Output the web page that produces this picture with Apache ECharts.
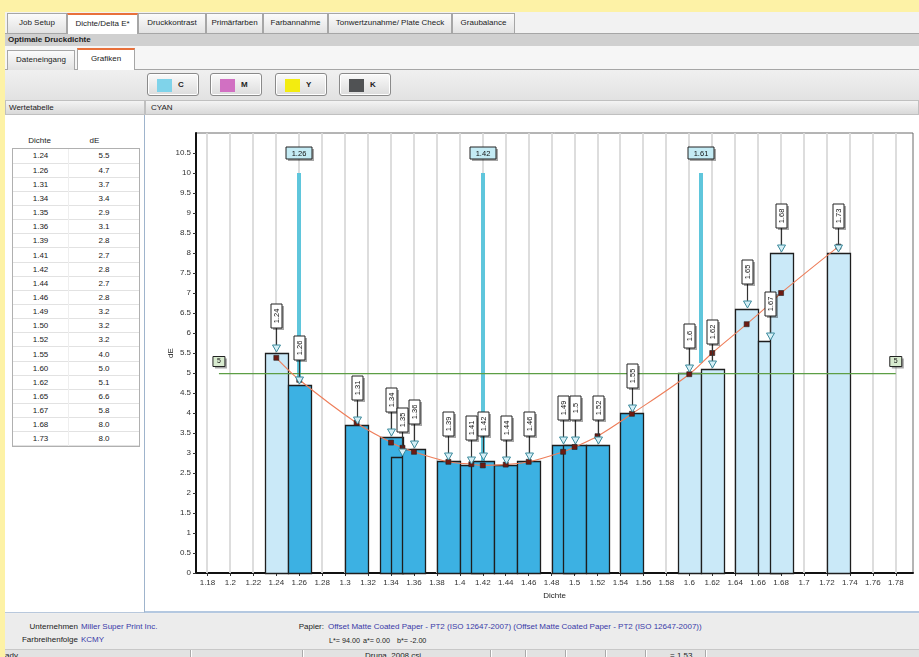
<!DOCTYPE html>
<html><head><meta charset="utf-8">
<script src="https://cdn.jsdelivr.net/npm/echarts@6/dist/echarts.min.js"></script>
<style>
html,body{margin:0;padding:0;width:919px;height:657px;overflow:hidden;background:#fdf2a6;font-family:"Liberation Sans",Arial,sans-serif;font-size:8px;color:#222;}
.a{position:absolute;box-sizing:border-box;}
.tab{position:absolute;box-sizing:border-box;top:13px;height:20px;border:1px solid #a6a6a6;border-bottom:none;background:linear-gradient(#fbfbfb,#e2e2e2);text-align:center;line-height:18px;white-space:nowrap;}
.tab.on{background:#fff;border-top:2px solid #e8703a;top:13px;height:21px;}
.btn{position:absolute;top:73px;height:23px;width:52px;box-sizing:border-box;border:1px solid #8a8a8a;border-radius:3px;background:linear-gradient(#fafafa,#dcdcdc);box-shadow:inset 0 0 0 1px #fff;}
.btn .sq{position:absolute;left:9px;top:5px;width:15px;height:13px;}
.btn .t{position:absolute;left:30px;top:6px;font-weight:bold;font-size:8px;}
table{border-collapse:collapse;}
.sm{font-size:7.2px;white-space:nowrap;}
</style>
</head><body>
<div class="a" style="left:5px;top:12px;width:914px;height:645px;background:#eeeeee;"></div>
<!-- main tabs -->
<div class="a" style="left:5px;top:12px;width:914px;height:22px;background:#f2f2f2;border-bottom:1px solid #a6a6a6;"></div>
<div class="tab" style="left:7px;width:60px;">Job Setup</div>
<div class="tab on" style="left:67px;width:71px;">Dichte/Delta E*</div>
<div class="tab" style="left:138px;width:68px;">Druckkontrast</div>
<div class="tab" style="left:206px;width:57px;">Primärfarben</div>
<div class="tab" style="left:263px;width:65px;">Farbannahme</div>
<div class="tab" style="left:328px;width:124px;">Tonwertzunahme/ Plate Check</div>
<div class="tab" style="left:452px;width:63px;">Graubalance</div>
<!-- title bar -->
<div class="a" style="left:5px;top:34px;width:914px;height:12px;background:#d0d0d0;font-weight:bold;padding-left:3px;line-height:12px;">Optimale Druckdichte</div>
<!-- sub tabs -->
<div class="a" style="left:5px;top:46px;width:914px;height:24px;background:#f6f6f6;border-bottom:1px solid #a6a6a6;"></div>
<div class="tab" style="left:7px;top:50px;width:68px;">Dateneingang</div>
<div class="tab on" style="left:77px;top:48px;width:58px;height:22px;">Grafiken</div>
<!-- buttons -->
<div class="a" style="left:5px;top:70px;width:914px;height:30px;background:linear-gradient(#f0f0f0,#e2e2e2);"></div>
<div class="btn" style="left:147px;"><div class="sq" style="background:#7fd3ea;"></div><div class="t">C</div></div>
<div class="btn" style="left:210px;"><div class="sq" style="background:#d170c2;"></div><div class="t">M</div></div>
<div class="btn" style="left:275px;"><div class="sq" style="background:#f3ec10;"></div><div class="t">Y</div></div>
<div class="btn" style="left:339px;"><div class="sq" style="background:#505254;"></div><div class="t">K</div></div>
<!-- header row -->
<div class="a" style="left:5px;top:100px;width:140px;height:15px;background:linear-gradient(#f4f4f4,#d9d9d9);border:1px solid #c0c0c0;padding-left:3px;line-height:13px;">Wertetabelle</div>
<div class="a" style="left:145px;top:100px;width:774px;height:15px;background:linear-gradient(#f4f4f4,#d9d9d9);border:1px solid #c0c0c0;padding-left:5px;line-height:13px;">CYAN</div>
<!-- left panel -->
<div class="a" style="left:5px;top:115px;width:140px;height:498px;background:#fff;border-right:1px solid #9fb4cc;border-bottom:1px solid #b8c8dc;"></div>
<div class="a" style="left:12px;top:135px;width:128px;height:12px;">
  <span class="a" style="left:0;width:55px;text-align:center;line-height:12px;">Dichte</span>
  <span class="a" style="left:55px;width:55px;text-align:center;line-height:12px;">dE</span>
</div>
<div id="tbl" class="a" style="left:12px;top:148px;width:128px;border:1px solid #b0b0b0;background:#fff;"></div>
<!-- chart panel -->
<div class="a" style="left:145px;top:115px;width:774px;height:498px;background:#fff;border-bottom:2px solid #b4c8e0;"></div>
<div id="chart" class="a" style="left:146px;top:115px;width:773px;height:497px;"></div>
<!-- bottom info -->
<div class="a" style="left:5px;top:614px;width:914px;height:35px;background:#ececec;"></div>
<div class="a" style="left:5px;top:622px;width:73px;text-align:right;">Unternehmen</div>
<div class="a" style="left:81px;top:622px;color:#3a3aa8;">Miller Super Print Inc.</div>
<div class="a" style="left:5px;top:635px;width:73px;text-align:right;">Farbreihenfolge</div>
<div class="a" style="left:81px;top:635px;color:#3a3aa8;">KCMY</div>
<div class="a" style="left:280px;top:622px;width:44px;text-align:right;">Papier:</div>
<div class="a" style="left:328px;top:622px;color:#3a3aa8;white-space:nowrap;">Offset Matte Coated Paper - PT2 (ISO 12647-2007) (Offset Matte Coated Paper - PT2 (ISO 12647-2007))</div>
<div class="a sm" style="left:329px;top:636px;">L*= 94.00</div>
<div class="a sm" style="left:363px;top:636px;">a*= 0.00</div>
<div class="a sm" style="left:397px;top:636px;">b*= -2.00</div>
<!-- status bar -->
<div class="a" style="left:5px;top:649px;width:914px;height:8px;background:#e2e2e2;border-top:1px solid #c8c8c8;overflow:hidden;">
  <span class="a" style="left:0;top:1px;">ady</span>
  <span class="a" style="left:185px;top:0;height:10px;border-left:1px solid #aaa;border-right:1px solid #fff;"></span>
  <span class="a" style="left:297px;top:0;height:10px;border-left:1px solid #aaa;border-right:1px solid #fff;"></span>
  <span class="a" style="left:360px;top:1px;">Druna_2008.csi</span>
  <span class="a" style="left:485px;top:0;height:10px;border-left:1px solid #aaa;border-right:1px solid #fff;"></span>
  <span class="a" style="left:520px;top:0;height:10px;border-left:1px solid #aaa;border-right:1px solid #fff;"></span>
  <span class="a" style="left:560px;top:0;height:10px;border-left:1px solid #aaa;border-right:1px solid #fff;"></span>
  <span class="a" style="left:600px;top:0;height:10px;border-left:1px solid #aaa;border-right:1px solid #fff;"></span>
  <span class="a" style="left:640px;top:0;height:10px;border-left:1px solid #aaa;border-right:1px solid #fff;"></span>
  <span class="a" style="left:665px;top:1px;">= 1.53</span>
  <span class="a" style="left:700px;top:0;height:10px;border-left:1px solid #aaa;border-right:1px solid #fff;"></span>
</div>

<script>
// ---- data ----
const dichte = [1.24,1.26,1.31,1.34,1.35,1.36,1.39,1.41,1.42,1.44,1.46,1.49,1.50,1.52,1.55,1.60,1.62,1.65,1.67,1.68,1.73];
const dE     = [5.5, 4.7, 3.7, 3.4, 2.9, 3.1, 2.8, 2.7, 2.8, 2.7, 2.8, 3.2, 3.2, 3.2, 4.0, 5.0, 5.1, 6.6, 5.8, 8.0, 8.0];
const fitDE  = [5.38,4.83,3.75,3.26,3.13,3.03,2.78,2.72,2.69,2.71,2.78,3.03,3.15,3.42,3.98,4.97,5.50,6.22,6.72,7.00,8.16];
const guideDichte = [1.26, 1.42, 1.61];
const guideLow    = [4.83, 2.69, 5.25];
const guideHigh   = 10;
const guideLabelAt = 10.5;
const limitDE = 5;
const limitFrom = 1.19, limitTo = 1.78;
const xTicks = [1.18,1.2,1.22,1.24,1.26,1.28,1.3,1.32,1.34,1.36,1.38,1.4,1.42,1.44,1.46,1.48,1.5,1.52,1.54,1.56,1.58,1.6,1.62,1.64,1.66,1.68,1.7,1.72,1.74,1.76,1.78];
const yTicks = [0,0.5,1,1.5,2,2.5,3,3.5,4,4.5,5,5.5,6,6.5,7,7.5,8,8.5,9,9.5,10,10.5];
const xMin = 1.17, xMax = 1.795, yMin = 0, yMax = 11;
const barHalf = 0.01;

// ---- table ----
(function(){
  let h = '<table style="width:100%;">';
  dichte.forEach((d,i)=>{
    h += '<tr style="height:14.15px;border-bottom:1px solid #e2e2e2;"><td style="width:55px;text-align:center;padding:0;border-right:1px solid #eee;">'+d.toFixed(2)+'</td><td style="text-align:center;padding:0;">'+dE[i].toFixed(1)+'</td></tr>';
  });
  h += '</table>';
  document.getElementById('tbl').innerHTML = h;
})();

const FONT = '"Liberation Sans", Arial, sans-serif';
const darkBlue = '#3cb1e3', lightBlue = '#cae9f8';

function gridItem(params, api){
  const x = api.value(0);
  const a = api.coord([x, yMin]), b = api.coord([x, yMax]);
  const px = Math.round(a[0]);
  return {type:'line', shape:{x1:px,y1:a[1],x2:px,y2:b[1]}, style:{stroke:'#dadada', lineWidth:1.8}};
}
function limitItem(params, api){
  const a = api.coord([api.value(0), api.value(2)]);
  const b = api.coord([api.value(1), api.value(2)]);
  const y = Math.round(a[1]) + 0.5;
  const mk = (cx) => [
    {type:'rect', shape:{x:cx-6+2, y:y-17+2, width:12, height:10}, style:{fill:'rgba(0,0,0,0.35)'}},
    {type:'rect', shape:{x:cx-6, y:y-17, width:12, height:10}, style:{fill:'#d8ebcf', stroke:'#222', lineWidth:1}},
    {type:'text', x:cx, y:y-12, style:{text:String(api.value(2)), fill:'#111', fontSize:7, fontFamily:FONT, align:'center', verticalAlign:'middle'}}
  ];
  return {type:'group', children:[
    {type:'rect', shape:{x:a[0], y:y-0.6, width:b[0]-a[0], height:1.3}, style:{fill:'#5d9e45'}}
  ].concat(mk(a[0]), mk(b[0]))};
}
function guideItem(params, api){
  const x = api.value(0);
  const lo = api.coord([x, api.value(1)]), hi = api.coord([x, api.value(2)]), lab = api.coord([x, api.value(3)]);
  const cx = Math.round(lo[0]);
  const w = 26, h = 12;
  return {type:'group', children:[
    {type:'line', shape:{x1:cx,y1:lo[1],x2:cx,y2:hi[1]}, style:{stroke:'#5fc6dc', lineWidth:4}},
    {type:'rect', shape:{x:cx-w/2+2, y:lab[1]-h/2+2, width:w, height:h}, style:{fill:'rgba(0,0,0,0.35)'}},
    {type:'rect', shape:{x:cx-w/2, y:lab[1]-h/2, width:w, height:h}, style:{fill:'#c4ebf4', stroke:'#222', lineWidth:1}},
    {type:'text', x:cx, y:lab[1]+0.5, style:{text:String(x), fill:'#111', fontSize:7.5, fontFamily:FONT, align:'center', verticalAlign:'middle'}}
  ]};
}
function barItem(params, api){
  const x = api.value(0), v = api.value(1);
  const p1 = api.coord([x - barHalf, v]), p2 = api.coord([x + barHalf, 0]);
  return {type:'rect', shape:{x:Math.round(p1[0])+0.5, y:Math.round(p1[1])+0.5, width:Math.round(p2[0]-p1[0]), height:Math.round(p2[1]-p1[1])},
    style:{fill: v < limitDE ? darkBlue : lightBlue, stroke:'#1e1e1e', lineWidth:1.3}};
}
function annItem(params, api){
  const x = api.value(0), v = api.value(1);
  const p = api.coord([x, v]);
  const cx = Math.round(p[0]) + 0.5, top = p[1];
  const triH = 7, gap = 18, bw = 11, bh = 24;
  const bb = top - triH - gap;
  return {type:'group', children:[
    {type:'line', shape:{x1:cx,y1:bb,x2:cx,y2:top-triH}, style:{stroke:'#333', lineWidth:1.2}},
    {type:'polygon', shape:{points:[[cx-4,top-triH-1],[cx+4,top-triH-1],[cx,top-1]]}, style:{fill:'#d6eff6', stroke:'#3b8a9c', lineWidth:1}},
    {type:'rect', shape:{x:cx-bw/2+2, y:bb-bh+2, width:bw, height:bh}, style:{fill:'rgba(0,0,0,0.35)'}},
    {type:'rect', shape:{x:cx-bw/2, y:bb-bh, width:bw, height:bh}, style:{fill:'#fff', stroke:'#222', lineWidth:1}},
    {type:'text', x:cx+0.5, y:bb-bh/2, rotation:Math.PI/2, style:{text:String(x), fill:'#111', fontSize:7.5, fontFamily:FONT, align:'center', verticalAlign:'middle'}}
  ]};
}

const chart = echarts.init(document.getElementById('chart'));
chart.setOption({
  animation:false,
  grid:{left:50, top:18, right:6, bottom:39, show:true, borderColor:'#6a6a6a', borderWidth:1, backgroundColor:'#fff'},
  xAxis:{type:'value', min:xMin, max:xMax,
    name:'Dichte', nameLocation:'middle', nameGap:19, nameMoveOverlap:false, nameTextStyle:{fontSize:8, color:'#222', fontFamily:FONT},
    axisLine:{show:true, onZero:false, lineStyle:{color:'#111', width:2}},
    axisTick:{show:true, length:3, customValues:xTicks, lineStyle:{color:'#333'}},
    axisLabel:{customValues:xTicks, fontSize:8, color:'#333', margin:6, fontFamily:FONT, formatter:v=>String(+(+v).toFixed(2))},
    splitLine:{show:false}},
  yAxis:{type:'value', min:yMin, max:yMax, interval:0.5,
    name:'dE', nameLocation:'middle', nameRotate:90, nameGap:21, nameMoveOverlap:false, nameTextStyle:{fontSize:8, color:'#222', fontFamily:FONT},
    axisLine:{show:true, onZero:false, lineStyle:{color:'#111', width:2}},
    axisTick:{show:true, length:3, customValues:yTicks, lineStyle:{color:'#333'}},
    axisLabel:{customValues:yTicks, fontSize:8, color:'#333', margin:5, fontFamily:FONT, formatter:v=>String(+(+v).toFixed(1))},
    splitLine:{show:false}},
  series:[
    {type:'custom', z:1, silent:true, clip:true, renderItem:gridItem, data:xTicks.map(v=>[v,0]), encode:{x:0,y:1}},
    {type:'custom', z:2, silent:true, renderItem:guideItem, data:guideDichte.map((x,i)=>[x, guideLow[i], guideHigh, guideLabelAt]), encode:{x:0,y:1}},
    {type:'custom', z:3, silent:true, renderItem:barItem, data:dichte.map((x,i)=>[x, dE[i]]), encode:{x:0,y:1}},
    {type:'custom', z:4, silent:true, renderItem:limitItem, data:[[limitFrom, limitTo, limitDE]], encode:{x:[0,1],y:2}},
    {type:'line', z:5, silent:true, data:dichte.map((x,i)=>[x, fitDE[i]]), smooth:0.35, symbol:'rect', symbolSize:5, showSymbol:true,
      lineStyle:{color:'#ee7e5a', width:1.1}, itemStyle:{color:'#6e1b12', borderColor:'#222', borderWidth:0.6}},
    {type:'custom', z:6, silent:true, renderItem:annItem, data:dichte.map((x,i)=>[x, dE[i]]), encode:{x:0,y:1}}
  ]
});
</script>
</body></html>
